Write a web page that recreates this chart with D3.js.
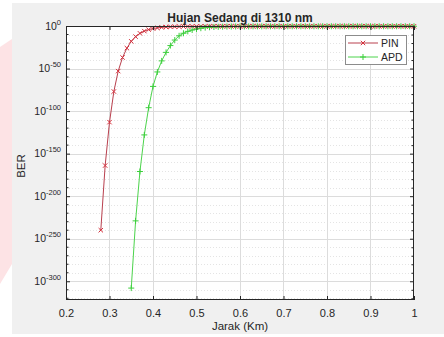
<!DOCTYPE html>
<html>
<head>
<meta charset="UTF-8">
<script src="https://d3js.org/d3.v7.min.js"></script>
<style>
  body { margin: 0; background: #ffffff; }
  svg text { font-family: "Liberation Sans", Arial, sans-serif; fill: #262626; }
</style>
</head>
<body>
<svg id="chart" width="444" height="337"></svg>
<script>

// ---- data ----
var titleText = "Hujan Sedang di 1310 nm";
var xLabel = "Jarak (Km)";
var yLabel = "BER";
var seriesNames = ["PIN", "APD"];

var pinJarak = [0.28, 0.29,
  0.30, 0.31, 0.32, 0.33, 0.34, 0.35, 0.36, 0.37, 0.38, 0.39,
  0.40, 0.41, 0.42, 0.43, 0.44, 0.45, 0.46, 0.47, 0.48, 0.49,
  0.50, 0.51, 0.52, 0.53, 0.54, 0.55, 0.56, 0.57, 0.58, 0.59,
  0.60, 0.61, 0.62, 0.63, 0.64, 0.65, 0.66, 0.67, 0.68, 0.69,
  0.70, 0.71, 0.72, 0.73, 0.74, 0.75, 0.76, 0.77, 0.78, 0.79,
  0.80, 0.81, 0.82, 0.83, 0.84, 0.85, 0.86, 0.87, 0.88, 0.89,
  0.90, 0.91, 0.92, 0.93, 0.94, 0.95, 0.96, 0.97, 0.98, 0.99, 1.00];
var pinBER = [1e-240, 1e-164,
  1e-113, 1e-77, 1e-53, 1e-37, 1e-26, 1e-18, 3e-13, 2.5e-9, 1e-6, 6e-5,
  1e-3, 6e-3, 0.025, 0.063, 0.11, 0.166, 0.22, 0.27, 0.31, 0.34,
  0.365, 0.385, 0.40, 0.412, 0.422, 0.43, 0.437, 0.443, 0.448, 0.452,
  0.456, 0.459, 0.462, 0.465, 0.467, 0.469, 0.471, 0.473, 0.474, 0.476,
  0.477, 0.478, 0.479, 0.480, 0.481, 0.482, 0.483, 0.484, 0.485, 0.486,
  0.486, 0.487, 0.487, 0.488, 0.488, 0.489, 0.489, 0.490, 0.490, 0.490,
  0.491, 0.491, 0.491, 0.492, 0.492, 0.492, 0.493, 0.493, 0.493, 0.493, 0.494];

var apdJarak = [0.35, 0.36, 0.37, 0.38, 0.39,
  0.40, 0.41, 0.42, 0.43, 0.44, 0.45, 0.46, 0.47, 0.48, 0.49,
  0.50, 0.51, 0.52, 0.53, 0.54, 0.55, 0.56, 0.57, 0.58, 0.59,
  0.60, 0.61, 0.62, 0.63, 0.64, 0.65, 0.66, 0.67, 0.68, 0.69,
  0.70, 0.71, 0.72, 0.73, 0.74, 0.75, 0.76, 0.77, 0.78, 0.79,
  0.80, 0.81, 0.82, 0.83, 0.84, 0.85, 0.86, 0.87, 0.88, 0.89,
  0.90, 0.91, 0.92, 0.93, 0.94, 0.95, 0.96, 0.97, 0.98, 0.99, 1.00];
var apdBER = [1e-308, 1e-229, 1e-171, 1e-128, 1e-96,
  1e-71, 1e-54, 1e-41, 1e-31, 1e-23, 3e-17, 3e-12, 3e-9, 5e-7, 2e-5,
  3e-4, 2.5e-3, 0.012, 0.035, 0.075, 0.12, 0.17, 0.215, 0.255, 0.29,
  0.32, 0.345, 0.365, 0.38, 0.395, 0.405, 0.415, 0.423, 0.43, 0.436,
  0.441, 0.446, 0.45, 0.454, 0.457, 0.46, 0.463, 0.465, 0.467, 0.469,
  0.471, 0.473, 0.474, 0.476, 0.477, 0.478, 0.479, 0.48, 0.481, 0.482,
  0.483, 0.484, 0.484, 0.485, 0.486, 0.486, 0.487, 0.487, 0.488, 0.488, 0.489];

var xTicks = [0.2, 0.3, 0.4, 0.5, 0.6, 0.7, 0.8, 0.9, 1];
var xTickLabels = ["0.2", "0.3", "0.4", "0.5", "0.6", "0.7", "0.8", "0.9", "1"];
var yTicks = [1e0, 1e-50, 1e-100, 1e-150, 1e-200, 1e-250, 1e-300];
var yTickExp = ["0", "-50", "-100", "-150", "-200", "-250", "-300"];

// ---- layout ----
var W = 444, H = 337;
var plot = {left: 66, top: 26, right: 414, bottom: 300};
var pinColor = "#d6303c", pinLine = "#b9404e";
var apdColor = "#3ccf3c", apdLine = "#4cd44c";

var svg = d3.select("#chart");

// pink shape on the page behind the figure
svg.append("path")
  .attr("d", "M0,47 L12,39 L12,264 L0,284 Z")
  .attr("fill", "#fde3e5");

// figure background
svg.append("rect")
  .attr("x", 12).attr("y", 3)
  .attr("width", W - 12).attr("height", 331)
  .attr("fill", "#f0f0f0");

var x = d3.scaleLinear().domain([0.2, 1]).range([plot.left, plot.right]);
var y = d3.scaleLog().domain([1e-322, 1]).range([plot.bottom, plot.top]);

svg.append("rect")
  .attr("x", plot.left).attr("y", plot.top)
  .attr("width", plot.right - plot.left).attr("height", plot.bottom - plot.top)
  .attr("fill", "#ffffff");

// minor horizontal grid every 10 decades
var minorY = d3.range(-320, 0, 10).filter(function(e) { return e % 50 !== 0; })
  .map(function(e) { return Math.pow(10, e); });

var grid = svg.append("g");
grid.selectAll("line.minor").data(minorY).enter().append("line")
  .attr("x1", plot.left).attr("x2", plot.right)
  .attr("y1", function(d) { return Math.round(y(d)) + 0.5; })
  .attr("y2", function(d) { return Math.round(y(d)) + 0.5; })
  .attr("stroke", "#e4e4e4").attr("stroke-dasharray", "1,2");

grid.selectAll("line.hy").data(yTicks.slice(1)).enter().append("line")
  .attr("x1", plot.left).attr("x2", plot.right)
  .attr("y1", function(d) { return Math.round(y(d)) + 0.5; })
  .attr("y2", function(d) { return Math.round(y(d)) + 0.5; })
  .attr("stroke", "#dcdcdc");

grid.selectAll("line.vx").data(xTicks.slice(1, -1)).enter().append("line")
  .attr("x1", function(d) { return Math.round(x(d)) + 0.5; })
  .attr("x2", function(d) { return Math.round(x(d)) + 0.5; })
  .attr("y1", plot.top).attr("y2", plot.bottom)
  .attr("stroke", "#dcdcdc");

// series
var pinData = pinJarak.map(function(d, i) { return {x: d, y: pinBER[i]}; });
var apdData = apdJarak.map(function(d, i) { return {x: d, y: apdBER[i]}; });

var line = d3.line().x(function(d) { return x(d.x); }).y(function(d) { return y(d.y); });

svg.append("path").datum(pinData)
  .attr("d", line).attr("fill", "none").attr("stroke", pinLine).attr("stroke-width", 1);
svg.append("path").datum(apdData)
  .attr("d", line).attr("fill", "none").attr("stroke", apdLine).attr("stroke-width", 1);

function crossPath(cx, cy, r) {
  return "M" + (cx - r) + "," + (cy - r) + "L" + (cx + r) + "," + (cy + r) +
         "M" + (cx - r) + "," + (cy + r) + "L" + (cx + r) + "," + (cy - r);
}
function plusPath(cx, cy, r) {
  return "M" + (cx - r) + "," + cy + "L" + (cx + r) + "," + cy +
         "M" + cx + "," + (cy - r) + "L" + cx + "," + (cy + r);
}

svg.append("g").selectAll("path").data(pinData).enter().append("path")
  .attr("d", function(d) { return crossPath(x(d.x), y(d.y), 2.2); })
  .attr("stroke", pinColor).attr("stroke-width", 1).attr("fill", "none");
svg.append("g").selectAll("path").data(apdData).enter().append("path")
  .attr("d", function(d) { return plusPath(x(d.x), y(d.y), 3); })
  .attr("stroke", apdColor).attr("stroke-width", 1).attr("fill", "none");

// axes: ticks inside, mirrored on the other sides
var axisColor = "#262626";
var xAxis = svg.append("g").attr("transform", "translate(0," + plot.bottom + ")")
  .call(d3.axisBottom(x).tickValues(xTicks).tickSize(-4).tickPadding(9)
    .tickFormat(function(d, i) { return xTickLabels[i]; }));
xAxis.select(".domain").remove();
xAxis.selectAll("line").attr("stroke", axisColor);
xAxis.selectAll("text").attr("font-size", "11px").attr("fill", axisColor);

var xTop = svg.append("g").attr("transform", "translate(0," + plot.top + ")")
  .call(d3.axisTop(x).tickValues(xTicks).tickSize(-4).tickFormat(""));
xTop.select(".domain").remove();
xTop.selectAll("line").attr("stroke", axisColor);

var yAxis = svg.append("g").attr("transform", "translate(" + plot.left + ",0)")
  .call(d3.axisLeft(y).tickValues(yTicks).tickSize(-4).tickFormat(""));
yAxis.select(".domain").remove();
yAxis.selectAll("line").attr("stroke", axisColor);

var yRight = svg.append("g").attr("transform", "translate(" + plot.right + ",0)")
  .call(d3.axisRight(y).tickValues(yTicks.concat(minorY)).tickSize(-4).tickFormat(""));
yRight.select(".domain").remove();
yRight.selectAll("line").attr("stroke", axisColor)
  .attr("x2", function(d) { return yTicks.indexOf(d) >= 0 ? -4 : -2.5; });
yAxis.selectAll("g.minor").data(minorY).enter().append("line")
  .attr("x1", 0).attr("x2", 2.5)
  .attr("y1", function(d) { return y(d); }).attr("y2", function(d) { return y(d); })
  .attr("stroke", axisColor);

// y tick labels 10^n
var yLab = svg.append("g");
yTicks.forEach(function(t, i) {
  var tx = yLab.append("text")
    .attr("x", plot.left - 5).attr("y", y(t) + 3.5)
    .attr("text-anchor", "end").attr("font-size", "10.5px");
  tx.append("tspan").text("10");
  tx.append("tspan").attr("dy", -5).attr("font-size", "7.5px").text(yTickExp[i]);
});

// box
svg.append("rect")
  .attr("x", plot.left + 0.5).attr("y", plot.top + 0.5)
  .attr("width", plot.right - plot.left - 1).attr("height", plot.bottom - plot.top - 1)
  .attr("fill", "none").attr("stroke", axisColor).attr("stroke-width", 1);

// title and labels
svg.append("text")
  .attr("x", (plot.left + plot.right) / 2).attr("y", 21.5)
  .attr("text-anchor", "middle").attr("font-size", "12px").attr("font-weight", "bold")
  .attr("fill", "#000").text(titleText);

svg.append("text")
  .attr("x", (plot.left + plot.right) / 2).attr("y", 330)
  .attr("text-anchor", "middle").attr("font-size", "11.5px").text(xLabel);

svg.append("text")
  .attr("transform", "translate(25,166) rotate(-90)")
  .attr("text-anchor", "middle").attr("font-size", "11.5px").text(yLabel);

// legend
var lg = svg.append("g").attr("transform", "translate(345,35)");
lg.append("rect").attr("x", 0.5).attr("y", 0.5).attr("width", 61).attr("height", 29)
  .attr("fill", "#ffffff").attr("stroke", "#8c8c8c");
var legendRows = [
  {name: seriesNames[0], line: pinLine, color: pinColor, marker: crossPath, r: 2.2},
  {name: seriesNames[1], line: apdLine, color: apdColor, marker: plusPath, r: 3}
];
legendRows.forEach(function(r, i) {
  var yy = 8 + i * 14;
  lg.append("line").attr("x1", 3).attr("x2", 33).attr("y1", yy).attr("y2", yy)
    .attr("stroke", r.line);
  lg.append("path").attr("d", r.marker(18, yy, r.r))
    .attr("stroke", r.color).attr("fill", "none");
  lg.append("text").attr("x", 36).attr("y", yy + 4)
    .attr("font-size", "10.5px").text(r.name);
});

</script>
</body>
</html>
